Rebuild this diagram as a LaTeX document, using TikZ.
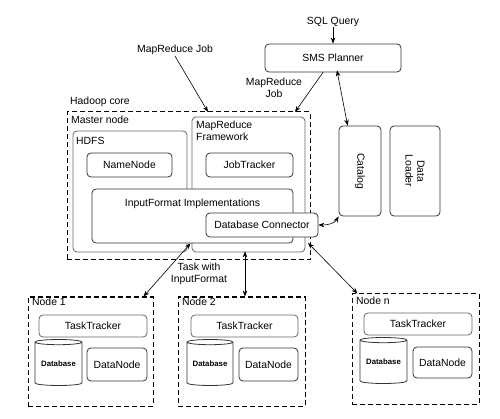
\documentclass[tikz,border=0pt]{standalone}
\usepackage{fontspec}
\setmainfont{Liberation Sans}
\usetikzlibrary{arrows.meta,shapes.geometric}
\begin{document}
\begin{tikzpicture}[x=1pt,y=-1pt,
  every node/.style={font=\fontsize{10.4}{11.8}\selectfont, inner sep=0pt},
  rbox/.style={draw=black!80, line width=0.8pt, rounded corners=4pt},
  gbox/.style={draw=black!60, line width=0.8pt, rounded corners=4pt},
  dbox/.style={draw=black, line width=1pt, dash pattern=on 5pt off 3pt},
  lbl/.style={anchor=west},
  arr/.style={line width=0.6pt, -{Stealth[length=6pt,width=4.5pt]}},
  darr/.style={line width=0.6pt, {Stealth[length=6pt,width=4.5pt]}-{Stealth[length=6pt,width=4.5pt]}},
  cyl/.style={cylinder, shape border rotate=90, draw=black!80, line width=0.8pt, aspect=0.15,
    font=\fontsize{7.8}{9}\selectfont\bfseries}
]
\useasboundingbox (0,0) rectangle (500,419);

% top
\node (sql) at (333,22) {SQL Query};
\node[rbox, minimum width=136, minimum height=28] (sms) at (333,58) {SMS Planner};
\node (mrjob) at (175,50) {MapReduce Job};
\node[align=center] (mrjob2) at (274,88) {MapReduce\\Job};

% hadoop core
\node[dbox, minimum width=243, minimum height=148] (hadoop) at (188.5,186) {};
\node[lbl] (hadooplbl) at (70,102) {Hadoop core};
\node[lbl] (masterlbl) at (71,120) {Master node};
\node[gbox, minimum width=114, minimum height=121] (hdfs) at (130,191.5) {};
\node[lbl] (hdfslbl) at (76,141) {HDFS};
\node[rbox, minimum width=85, minimum height=24] (namenode) at (129.5,165) {NameNode};
\node[gbox, minimum width=113, minimum height=135] (mrf) at (248.5,184.5) {};
\node[anchor=north west, align=left] (mrflbl) at (196,121) {MapReduce\\Framework};
\node[rbox, minimum width=87, minimum height=24] (jobtracker) at (249.5,165) {JobTracker};
\node[rbox, fill=white, minimum width=201, minimum height=54] (inputfmt) at (192.5,216) {};
\node (inputlbl) at (192.5,204) {InputFormat Implementations};
\node[rbox, fill=white, minimum width=112, minimum height=24] (dbc) at (262,225) {Database Connector};

% catalog, loader
\node[rbox, minimum width=42, minimum height=90] (catalog) at (360,171) {};
\node[rotate=-90] (catalogtxt) at (catalog) {Catalog};
\node[rbox, minimum width=50, minimum height=90] (loader) at (415,171) {};
\node[rotate=-90, align=center] (loadertxt) at (loader) {Data\\Loader};

% worker nodes
\node[dbox, minimum width=125, minimum height=109] (node1) at (90.5,351.5) {};
\node[lbl] (n1lbl) at (32,302) {Node 1};
\node[gbox, minimum width=108, minimum height=22] (tt1) at (93,326) {TaskTracker};
\node[cyl, minimum width=47, minimum height=46] (db1) at (58.5,364) {Database};
\node[rbox, minimum width=60, minimum height=33] (dn1) at (117,364.5) {DataNode};

\node[dbox, minimum width=127, minimum height=109] (node2) at (241.5,351.5) {};
\node[lbl] (n2lbl) at (182,302) {Node 2};
\node[gbox, minimum width=107, minimum height=22] (tt2) at (244.5,326) {TaskTracker};
\node[cyl, minimum width=46, minimum height=46] (db2) at (210,364) {Database};
\node[rbox, minimum width=59, minimum height=33] (dn2) at (268.5,364.5) {DataNode};

\node[dbox, minimum width=127, minimum height=110] (noden) at (415.5,349) {};
\node[lbl] (nnlbl) at (356,301) {Node n};
\node[gbox, minimum width=108, minimum height=22] (ttn) at (418,324) {TaskTracker};
\node[cyl, minimum width=47, minimum height=46] (dbn) at (383.5,362) {Database};
\node[rbox, minimum width=59, minimum height=31] (dnn) at (442.5,362.5) {DataNode};

\node[align=center] (tasklbl) at (199,274) {Task with\\InputFormat};

% connectors
\coordinate (hin1) at (208,112);
\coordinate (hin2) at (295,112);
\coordinate (hout) at (308,243);
\draw[arr] (sql) -- (sms);
\draw[arr] ([yshift=-1]mrjob.south) -- (hin1);
\draw[arr] ([xshift=-10]sms.south) -- (hin2);
\draw[darr] ([xshift=4,yshift=2]sms.south) -- ([xshift=9]catalog.north west);
\draw[darr] (dbc.east) to[out=0,in=-120] (catalog.south west);
\draw[darr] ([xshift=-10]node1.north east) -- ([xshift=-2]inputfmt.south);
\draw[darr] ([xshift=3.5]node2.north) -- ([xshift=-3.5,yshift=1]mrf.south);
\draw[darr] ([xshift=6]noden.north west) -- (hout);
\end{tikzpicture}
\end{document}
